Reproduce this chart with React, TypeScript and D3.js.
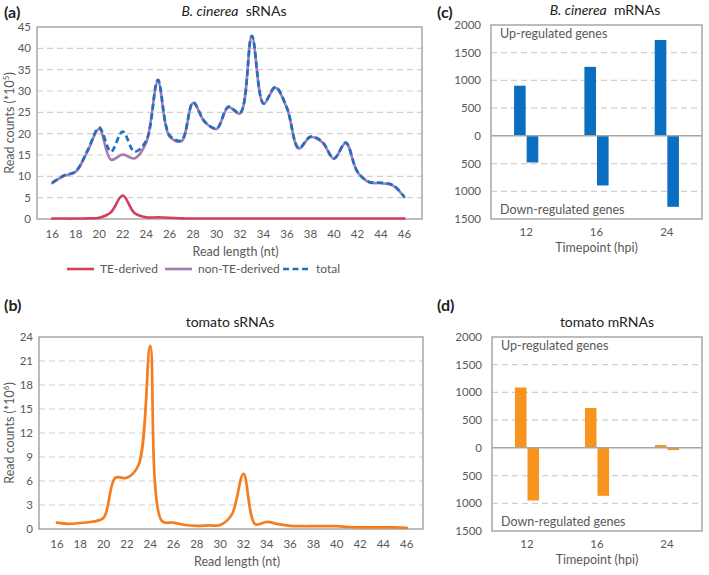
import { useEffect, useRef } from "react";
import * as d3 from "d3";

// read length categories (nt)
const readLengths = [16, 17, 18, 19, 20, 21, 22, 23, 24, 25, 26, 27, 28, 29, 30, 31, 32, 33, 34, 35, 36, 37, 38, 39, 40, 41, 42, 43, 44, 45, 46];
const lengthTicks = [16, 18, 20, 22, 24, 26, 28, 30, 32, 34, 36, 38, 40, 42, 44, 46];

// B. cinerea sRNAs (*10^5)
const bcTotal = [8.5, 10.2, 11.2, 16.0, 21.4, 15.8, 20.5, 15.8, 18.3, 32.6, 19.6, 18.4, 27.3, 22.8, 21.2, 26.3, 24.8, 42.9, 27.1, 30.9, 26.0, 16.6, 19.3, 18.1, 14.2, 17.9, 11.1, 8.7, 8.5, 8.0, 5.2];
const bcNonTE = [8.4, 10.1, 11.1, 15.85, 21.1, 13.9, 15.1, 14.2, 17.9, 32.2, 19.3, 18.25, 27.2, 22.7, 21.1, 26.2, 24.7, 42.8, 27.0, 30.8, 25.9, 16.5, 19.2, 18.0, 14.1, 17.8, 11.0, 8.6, 8.4, 7.9, 5.1];
const bcTE = [0.1, 0.1, 0.1, 0.15, 0.3, 1.6, 5.5, 1.4, 0.4, 0.4, 0.3, 0.15, 0.1, 0.1, 0.1, 0.1, 0.1, 0.1, 0.1, 0.1, 0.1, 0.1, 0.1, 0.1, 0.1, 0.1, 0.1, 0.1, 0.1, 0.1, 0.1];
const bcYTicks = [0, 5, 10, 15, 20, 25, 30, 35, 40, 45];

// tomato sRNAs (*10^6)
const tomTotal = [0.8, 0.65, 0.75, 0.9, 1.4, 6.4, 6.4, 8.0, 22.9, 1.0, 0.8, 0.5, 0.4, 0.45, 0.5, 1.8, 6.9, 0.6, 0.9, 0.6, 0.4, 0.35, 0.35, 0.35, 0.35, 0.25, 0.2, 0.2, 0.2, 0.2, 0.15];
const tomYTicks = [0, 3, 6, 9, 12, 15, 18, 21, 24];

// mRNAs, differentially expressed genes
const timepoints = ["12", "16", "24"];
const bcUp = [905, 1245, 1730];
const bcDown = [480, 895, 1280];
const tomUp = [1090, 720, 50];
const tomDown = [950, 865, 40];
const geneTicks = [-1500, -1000, -500, 0, 500, 1000, 1500, 2000];

const FONT = "Lato, 'Open Sans', sans-serif";
const GRID = "#d0d0d0";
const FRAME = "#a6a6a6";
const TXT = "#595959";

export default function App() {
  const ref = useRef<SVGSVGElement>(null);

  useEffect(() => {
    const svg = d3.select(ref.current);
    svg.selectAll("*").remove();
    svg.style("font-family", FONT);

    function linePanel(box: any, xDom: number[], yDom: number[], yTicks: number[], series: any[], yLabel: string, sup: string) {
      const x = d3.scaleLinear().domain(xDom).range([box.x0, box.x1]);
      const y = d3.scaleLinear().domain(yDom).range([box.y1, box.y0]);
      const g = svg.append("g");

      g.selectAll(".grid")
        .data(yTicks.filter(t => t > yDom[0] && t < yDom[1]))
        .enter().append("line")
        .attr("x1", box.x0).attr("x2", box.x1)
        .attr("y1", d => y(d)).attr("y2", d => y(d))
        .attr("stroke", GRID).attr("stroke-width", 1.2).attr("stroke-dasharray", "6,4");

      g.append("rect")
        .attr("x", box.x0).attr("y", box.y0)
        .attr("width", box.x1 - box.x0).attr("height", box.y1 - box.y0)
        .attr("fill", "none").attr("stroke", FRAME).attr("stroke-width", 1.5);

      g.selectAll(".yt").data(yTicks).enter().append("text")
        .attr("x", box.x0 - 6).attr("y", d => y(d) + 4)
        .attr("text-anchor", "end").attr("font-size", 11.5).attr("fill", TXT)
        .text(d => d);

      g.selectAll(".xt").data(lengthTicks).enter().append("text")
        .attr("x", d => x(d)).attr("y", box.y1 + 19)
        .attr("text-anchor", "middle").attr("font-size", 11.5).attr("fill", TXT)
        .text(d => d);

      g.append("text")
        .attr("x", (box.x0 + box.x1) / 2 + 6).attr("y", box.y1 + 37)
        .attr("text-anchor", "middle").attr("font-size", 12.5).attr("fill", TXT)
        .text("Read length (nt)");

      const yl = g.append("text")
        .attr("transform", "translate(14," + (box.y0 + box.y1) / 2 + ") rotate(-90)")
        .attr("text-anchor", "middle").attr("font-size", 12.5).attr("fill", TXT);
      yl.append("tspan").text(yLabel);
      yl.append("tspan").attr("font-size", 8).attr("dy", -5).text(sup);
      yl.append("tspan").attr("dy", 5).text(")");

      series.forEach(s => {
        const line = d3.line<number>()
          .x((d, i) => x(readLengths[i]))
          .y(d => y(d))
          .curve(d3.curveCatmullRom.alpha(0.5));
        g.append("path")
          .attr("d", line(s.values))
          .attr("fill", "none")
          .attr("stroke", s.color)
          .attr("stroke-width", s.width)
          .attr("stroke-linecap", s.dash ? "butt" : "round")
          .attr("stroke-dasharray", s.dash || null);
      });
    }

    function barPanel(box: any, up: number[], down: number[], color: string) {
      const x = d3.scaleBand().domain(timepoints).range([box.x0, box.x1]);
      const y = d3.scaleLinear().domain([-1500, 2000]).range([box.y1, box.y0]);
      const w = x.bandwidth() * 0.165;
      const g = svg.append("g");

      g.selectAll(".grid")
        .data(geneTicks.filter(t => t !== 0 && t > -1500 && t < 2000))
        .enter().append("line")
        .attr("x1", box.x0).attr("x2", box.x1)
        .attr("y1", d => y(d)).attr("y2", d => y(d))
        .attr("stroke", GRID).attr("stroke-width", 1.2).attr("stroke-dasharray", "6,4");

      g.selectAll(".up").data(up).enter().append("rect")
        .attr("x", (d, i) => x(timepoints[i])! + x.bandwidth() / 2 - w - 0.5)
        .attr("y", d => y(d)).attr("width", w).attr("height", d => y(0) - y(d))
        .attr("fill", color);

      g.selectAll(".down").data(down).enter().append("rect")
        .attr("x", (d, i) => x(timepoints[i])! + x.bandwidth() / 2 + 0.5)
        .attr("y", y(0)).attr("width", w).attr("height", d => y(-d) - y(0))
        .attr("fill", color);

      g.append("line")
        .attr("x1", box.x0).attr("x2", box.x1)
        .attr("y1", y(0)).attr("y2", y(0))
        .attr("stroke", FRAME).attr("stroke-width", 1.5);

      g.append("rect")
        .attr("x", box.x0).attr("y", box.y0)
        .attr("width", box.x1 - box.x0).attr("height", box.y1 - box.y0)
        .attr("fill", "none").attr("stroke", FRAME).attr("stroke-width", 1.5);

      g.selectAll(".yt").data(geneTicks).enter().append("text")
        .attr("x", box.x0 - 10).attr("y", d => y(d) + 4)
        .attr("text-anchor", "end").attr("font-size", 11.5).attr("fill", TXT)
        .text(d => Math.abs(d));

      g.selectAll(".xt").data(timepoints).enter().append("text")
        .attr("x", d => x(d)! + x.bandwidth() / 2).attr("y", box.y1 + 17)
        .attr("text-anchor", "middle").attr("font-size", 11.5).attr("fill", TXT)
        .text(d => d);

      g.append("text")
        .attr("x", (box.x0 + box.x1) / 2).attr("y", box.y1 + 33)
        .attr("text-anchor", "middle").attr("font-size", 12.5).attr("fill", TXT)
        .text("Timepoint (hpi)");

      g.append("text")
        .attr("x", box.x0 + 9).attr("y", box.y0 + 13)
        .attr("font-size", 12.5).attr("fill", TXT)
        .text("Up-regulated genes");
      g.append("text")
        .attr("x", box.x0 + 9).attr("y", box.y1 - 5)
        .attr("font-size", 12.5).attr("fill", TXT)
        .text("Down-regulated genes");
    }

    // (a)
    linePanel({ x0: 37, x1: 422, y0: 27, y1: 219 }, [14.7, 47.5], [0, 45], bcYTicks, [
      { values: bcTE, color: "#d2405e", width: 2.6 },
      { values: bcNonTE, color: "#a57bb0", width: 2.6 },
      { values: bcTotal, color: "#1f6fc2", width: 2.7, dash: "6,3.5" },
    ], "Read counts (*10", "5");

    // (b)
    linePanel({ x0: 39, x1: 423, y0: 337, y1: 529 }, [14.46, 47.4], [0, 24], tomYTicks, [
      { values: tomTotal, color: "#f47d20", width: 2.7 },
    ], "Read counts (*10", "6");

    // (c), (d)
    barPanel({ x0: 491, x1: 702, y0: 25, y1: 219 }, bcUp, bcDown, "#0b6fc1");
    barPanel({ x0: 492, x1: 702, y0: 337, y1: 531 }, tomUp, tomDown, "#f7941e");

    // legend for (a)
    const legend = [
      { name: "TE-derived", color: "#d2405e", x: 67, dash: null },
      { name: "non-TE-derived", color: "#a57bb0", x: 165, dash: null },
      { name: "total", color: "#1f6fc2", x: 283, dash: "6,3.5" },
    ];
    const lg = svg.append("g").selectAll("g").data(legend).enter().append("g");
    lg.append("line")
      .attr("x1", d => d.x).attr("x2", d => d.x + 27)
      .attr("y1", 269).attr("y2", 269)
      .attr("stroke", d => d.color).attr("stroke-width", 2.6)
      .attr("stroke-dasharray", d => d.dash);
    lg.append("text")
      .attr("x", d => d.x + 33).attr("y", 273)
      .attr("font-size", 12).attr("fill", TXT)
      .text(d => d.name);

    // titles
    const t1 = svg.append("text").attr("x", 234).attr("y", 16).attr("text-anchor", "middle").attr("font-size", 14).attr("fill", "#222");
    t1.append("tspan").attr("font-style", "italic").text("B. cinerea");
    t1.append("tspan").text("\u00a0 sRNAs");
    svg.append("text").attr("x", 230).attr("y", 327).attr("text-anchor", "middle").attr("font-size", 14).attr("fill", "#222").text("tomato sRNAs");
    const t3 = svg.append("text").attr("x", 605).attr("y", 15).attr("text-anchor", "middle").attr("font-size", 14).attr("fill", "#222");
    t3.append("tspan").attr("font-style", "italic").text("B. cinerea");
    t3.append("tspan").text("\u00a0 mRNAs");
    svg.append("text").attr("x", 607).attr("y", 327).attr("text-anchor", "middle").attr("font-size", 14).attr("fill", "#222").text("tomato mRNAs");

    // panel letters
    const letters = [
      { t: "(a)", x: 4, y: 18 },
      { t: "(b)", x: 4, y: 311 },
      { t: "(c)", x: 437, y: 18 },
      { t: "(d)", x: 437, y: 311 },
    ];
    svg.selectAll(".letter").data(letters).enter().append("text")
      .attr("x", d => d.x).attr("y", d => d.y)
      .attr("font-size", 16).attr("font-weight", "bold").attr("fill", "#222")
      .text(d => d.t);
  }, []);

  return (
    <div style={{ position: "absolute", left: 0, top: 0 }}>
      <svg ref={ref} width={709} height={575} style={{ display: "block", background: "#fff" }}></svg>
    </div>
  );
}
